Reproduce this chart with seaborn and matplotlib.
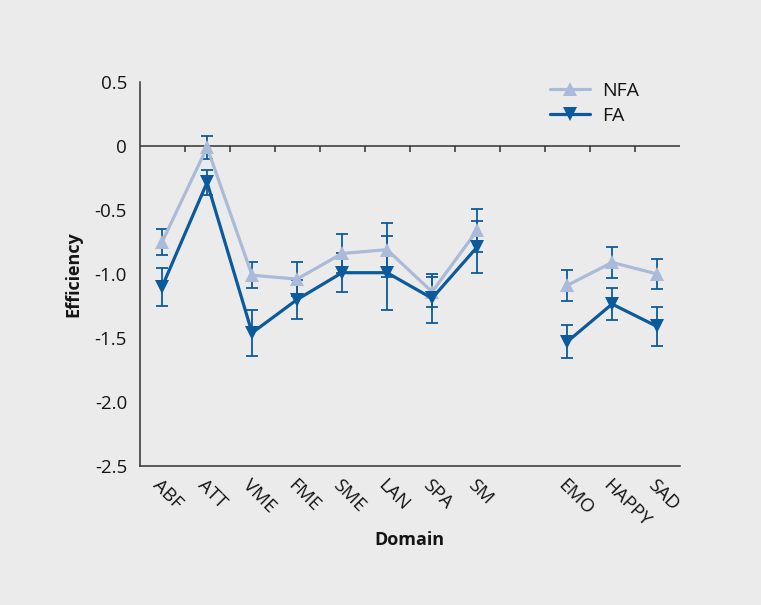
import matplotlib
matplotlib.use("Agg")
import matplotlib.pyplot as plt
import seaborn as sns
import pandas as pd
import numpy as np

# values
domains = ['ABF', 'ATT', 'VME', 'FME', 'SME', 'LAN', 'SPA', 'SM', 'EMO', 'HAPPY', 'SAD']
block = ['cog'] * 8 + ['emo'] * 3
nfa = [-0.75, -0.01, -1.01, -1.04, -0.84, -0.81, -1.14, -0.66, -1.09, -0.91, -1.00]
nfa_err = [0.10, 0.09, 0.10, 0.13, 0.15, 0.21, 0.12, 0.17, 0.12, 0.12, 0.12]
fa = [-1.10, -0.285, -1.46, -1.20, -0.99, -0.99, -1.19, -0.79, -1.53, -1.235, -1.41]
fa_err = [0.15, 0.10, 0.18, 0.15, 0.15, 0.29, 0.19, 0.20, 0.13, 0.125, 0.15]
yticks = [0.5, 0, -0.5, -1.0, -1.5, -2.0, -2.5]
ytick_labels = ['0.5', '0', '-0.5', '-1.0', '-1.5', '-2.0', '-2.5']

light = '#a9bbd8'
dark = '#0b5b9c'
axis_col = '#333333'
text_col = '#151515'
bg = '#ebebeb'

sns.set_theme(style='white')
plt.rcParams['font.family'] = ['Open Sans', 'DejaVu Sans']
plt.rcParams['text.color'] = text_col
plt.rcParams['axes.labelcolor'] = text_col
plt.rcParams['xtick.color'] = text_col
plt.rcParams['ytick.color'] = text_col

# one empty slot between the SM and EMO blocks
xpos = [i + (1 if b == 'emo' else 0) for i, b in enumerate(block)]
n_slots = max(xpos) + 1

df = pd.concat([
    pd.DataFrame({'x': xpos, 'eff': nfa, 'err': nfa_err, 'group': 'NFA', 'block': block}),
    pd.DataFrame({'x': xpos, 'eff': fa, 'err': fa_err, 'group': 'FA', 'block': block}),
], ignore_index=True)

fig = plt.figure(figsize=(7.61, 6.05), dpi=100, facecolor=bg)
ax = fig.add_axes([0.1834, 0.2298, 0.7096, 0.6347])
ax.set_facecolor(bg)

# error bars underneath
for grp in ['NFA', 'FA']:
    d = df[df.group == grp]
    ax.errorbar(d.x, d.eff, yerr=d.err, fmt='none', ecolor=dark, elinewidth=1.3,
                capsize=4, capthick=1.3, zorder=1)

sns.lineplot(data=df, x='x', y='eff', hue='group', style='group', units='block',
             estimator=None, palette={'NFA': light, 'FA': dark},
             markers={'NFA': '^', 'FA': 'v'}, dashes=False, linewidth=2.3,
             markersize=10, markeredgewidth=0, legend=False, ax=ax, zorder=2,
             sort=False)

ax.set_xlim(-0.5, n_slots - 0.5)
ax.set_ylim(-2.5, 0.5)

# zero line with downward ticks at slot boundaries
bounds = np.arange(-0.5, n_slots, 1.0)
ax.axhline(0, color=axis_col, lw=1.1, zorder=0)
ax.vlines(bounds[1:-1], -0.045, 0, color=axis_col, lw=1.1, zorder=0)

ax.set_xticks(bounds)
ax.set_xticklabels([])
ax.set_xticks(xpos, minor=True)
ax.set_xticklabels(domains, minor=True, rotation=-45, ha='left', va='top',
                   rotation_mode='anchor', fontsize=13.5)
ax.tick_params(axis='x', which='minor', length=0, pad=7)
ax.tick_params(axis='x', which='major', length=6, width=1.1, color=axis_col, direction='out')

ax.set_yticks(yticks)
ax.set_yticklabels(ytick_labels, fontsize=13.5)
ax.tick_params(axis='y', length=6, width=1.1, color=axis_col, direction='out', pad=3)

for s in ['top', 'right']:
    ax.spines[s].set_visible(False)
for s in ['left', 'bottom']:
    ax.spines[s].set_color(axis_col)
    ax.spines[s].set_linewidth(1.1)

ax.set_xlabel('Domain', fontsize=13, fontweight='bold', labelpad=1)
ax.set_ylabel('Efficiency', fontsize=13, fontweight='bold', labelpad=9)

handles = [plt.Line2D([], [], color=light, lw=2.3, marker='^', markersize=10, mew=0),
           plt.Line2D([], [], color=dark, lw=2.3, marker='v', markersize=10, mew=0)]
ax.legend(handles, ['NFA', 'FA'], loc='upper left', bbox_to_anchor=(0.76, 1.0),
          frameon=False, fontsize=14, handlelength=2.06, handletextpad=0.6,
          labelspacing=0.35, borderpad=0, borderaxespad=0)

fig.savefig('out.png', dpi=100, facecolor=bg)
